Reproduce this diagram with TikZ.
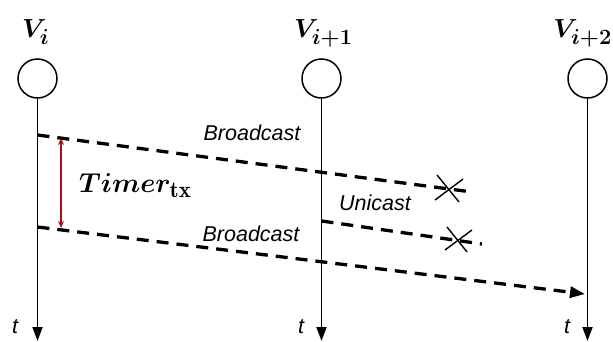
\documentclass[tikz,border=0pt]{standalone}
\usepackage{graphicx}
\usepackage{amsmath}
\usepackage{bm}
\usepackage{fontspec}
\newfontfamily\lsans{Liberation Sans}
\usetikzlibrary{arrows.meta}
\definecolor{darkred}{RGB}{165,20,20}
\newcommand{\bigmath}[2][1.05]{\scalebox{#1}{\Huge$#2$}}
\begin{document}
\begin{tikzpicture}[x=1pt,y=-1pt,
  nodecirc/.style={circle,draw,line width=1.5pt,minimum size=39pt,inner sep=0pt},
  vlabel/.style={inner sep=0pt},
  timeline/.style={line width=1.8pt,-{Triangle[length=14pt,width=10pt]}},
  msg/.style={line width=3.3pt,dash pattern=on 12pt off 8pt},
  msglabel/.style={font=\lsans\itshape\fontsize{21.5}{24}\selectfont,inner sep=0pt},
  tlabel/.style={font=\lsans\itshape\fontsize{21.5}{24}\selectfont,inner sep=0pt},
  crossline/.style={line width=1.4pt}]
\useasboundingbox (0,0) rectangle (613,342);
% nodes
\node[nodecirc] (v1) at (37.5,78.5) {};
\node[nodecirc] (v2) at (321.5,78.5) {};
\node[nodecirc] (v3) at (587.5,78.5) {};
\node[vlabel,anchor=base west] (l1) at (22,38) {\bigmath{\bm{V_i}}};
\node[vlabel,anchor=base west] (l2) at (294,38) {\bigmath{\bm{V_{i+1}}}};
\node[vlabel,anchor=base east] (l3) at (612,38) {\bigmath{\bm{V_{i+2}}}};
% time ends
\coordinate (e1) at (37.5,341);
\coordinate (e2) at (321.5,341);
\coordinate (e3) at (587.5,341);
\draw[timeline] (v1.south) -- (e1);
\draw[timeline] (v2.south) -- (e2);
\draw[timeline] (v3.south) -- (e3);
\node[tlabel] (t1) at (15,327) {t};
\node[tlabel] (t2) at (301,327) {t};
\node[tlabel] (t3) at (567,327) {t};
% messages
\coordinate (b1s) at (37.5,135);
\coordinate (b1e) at (472,192);
\coordinate (us) at (321.5,221);
\coordinate (ue) at (482,244);
\coordinate (b2s) at (37.5,227);
\coordinate (b2e) at (585,294);
\draw[msg] (b1s) -- (b1e);
\draw[msg] (us) -- (ue);
\draw[msg,-{Triangle[length=15pt,width=11pt]}] (b2s) -- (b2e);
\node[msglabel] (bc1) at (252,133) {Broadcast};
\node[msglabel] (uc) at (375,203) {Unicast};
\node[msglabel] (bc2) at (251,234) {Broadcast};
% crosses
\coordinate (x1) at (448,189);
\coordinate (x2) at (457,239);
\draw[crossline] ([shift={(-11,-14)}]x1) -- ([shift={(11,13)}]x1);
\draw[crossline] ([shift={(15,-10)}]x1) -- ([shift={(-13,11)}]x1);
\draw[crossline] ([shift={(-10,-12)}]x2) -- ([shift={(10,13)}]x2);
\draw[crossline] ([shift={(15,-9)}]x2) -- ([shift={(-12,11)}]x2);
% timer
\coordinate (ta) at (61,138);
\coordinate (tb) at (61,228);
\draw[darkred,line width=1.3pt,{Stealth[length=7pt,width=6pt]}-{Stealth[length=7pt,width=6pt]}] (ta) -- (tb);
\node[vlabel,anchor=base west] (timer) at (79,192) {\bigmath[1.1]{\bm{Timer}_{\mathbf{tx}}}};
\end{tikzpicture}
\end{document}
